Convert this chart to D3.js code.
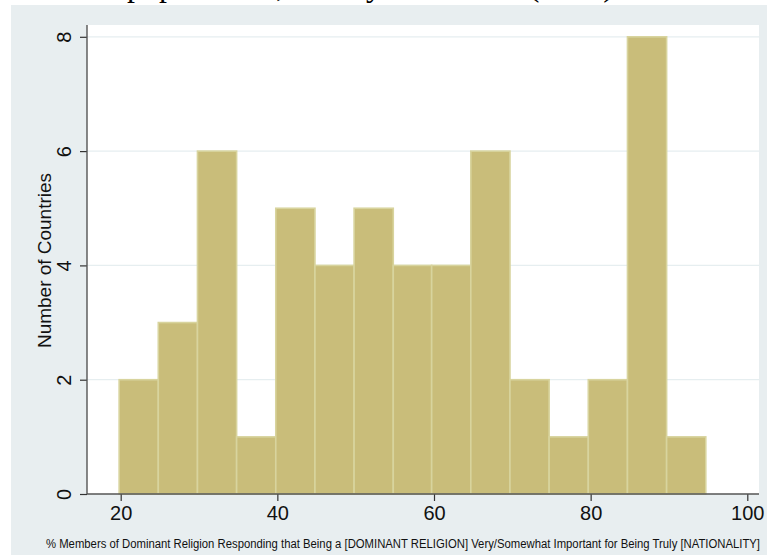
<!DOCTYPE html>
<html>
<head>
<meta charset="utf-8">
<script src="https://cdn.jsdelivr.net/npm/d3@7"></script>
<style>
  html, body { margin: 0; padding: 0; background: #ffffff; }
  svg { display: block; }
</style>
</head>
<body>
<div id="chart"></div>
<script>
// Histogram bins: lower/upper edges and number of countries in each
const binLower = [19.8, 24.8, 29.8, 34.8, 39.8, 44.8, 49.8, 54.8, 59.7, 64.7, 69.7, 74.7, 79.7, 84.7, 89.7];
const binUpper = [24.8, 29.8, 34.8, 39.8, 44.8, 49.8, 54.8, 59.7, 64.7, 69.7, 74.7, 79.7, 84.7, 89.7, 94.7];
const counts   = [2, 3, 6, 1, 5, 4, 5, 4, 4, 6, 2, 1, 2, 8, 1];

const xTicks = [20, 40, 60, 80, 100];
const yTicks = [0, 2, 4, 6, 8];

const xTitle = "% Members of Dominant Religion Responding that Being a [DOMINANT RELIGION] Very/Somewhat Important for Being Truly [NATIONALITY]";
const yTitle = "Number of Countries";
const headTitle = "populations, as they are shown (2018)";

const W = 767, H = 556;
const plot = { left: 87, right: 759, top: 25, bottom: 494 };

const svg = d3.select("#chart").append("svg")
  .attr("width", W).attr("height", H);

// title line above the graph region (runs off the top edge)
svg.append("text")
  .attr("x", 127).attr("y", -4)
  .attr("font-family", "Liberation Serif, serif")
  .attr("font-size", 32)
  .attr("fill", "#000")
  .text(headTitle);

// graph region
svg.append("rect")
  .attr("x", 11).attr("y", 5)
  .attr("width", W - 11).attr("height", 550)
  .attr("fill", "#e8eef0");

// plot region
svg.append("rect")
  .attr("x", plot.left).attr("y", plot.top)
  .attr("width", plot.right - plot.left).attr("height", plot.bottom - plot.top)
  .attr("fill", "#ffffff");

const x = d3.scaleLinear().domain([20, 100]).range([120.7, 747.3]);
const y = d3.scaleLinear().domain([0, 8]).range([494, 36.8]);

// horizontal grid lines
svg.append("g")
  .selectAll("line")
  .data(yTicks.filter(d => d > 0))
  .join("line")
  .attr("x1", plot.left).attr("x2", plot.right)
  .attr("y1", d => y(d)).attr("y2", d => y(d))
  .attr("stroke", "#e6eef0")
  .attr("stroke-width", 1.2);

// bars
const bins = counts.map((c, i) => ({ x0: binLower[i], x1: binUpper[i], n: c }));
svg.append("g")
  .selectAll("rect")
  .data(bins)
  .join("rect")
  .attr("x", d => x(d.x0))
  .attr("width", d => x(d.x1) - x(d.x0))
  .attr("y", d => y(d.n))
  .attr("height", d => y(0) - y(d.n))
  .attr("fill", "#c9bd7a")
  .attr("stroke", "#d8d49e")
  .attr("stroke-width", 1.6);

// axes
const xAxis = d3.axisBottom(x).tickValues(xTicks).tickSize(7).tickPadding(5).tickFormat(d3.format("d"));
const gx = svg.append("g").attr("transform", `translate(0,${plot.bottom})`).call(xAxis);
gx.select(".domain").remove();
gx.append("line")
  .attr("x1", plot.left).attr("x2", plot.right)
  .attr("stroke", "#555").attr("stroke-width", 1.4);
gx.selectAll(".tick line").attr("stroke", "#333").attr("stroke-width", 1.2);
gx.selectAll(".tick text")
  .attr("font-family", "Liberation Sans, Arial, sans-serif")
  .attr("font-size", 20)
  .attr("fill", "#111");

const yAxis = d3.axisLeft(y).tickValues(yTicks).tickSize(7).tickFormat(d3.format("d"));
const gy = svg.append("g").attr("transform", `translate(${plot.left},0)`).call(yAxis);
gy.select(".domain").remove();
gy.append("line")
  .attr("y1", plot.top).attr("y2", plot.bottom)
  .attr("stroke", "#555").attr("stroke-width", 1.4);
gy.selectAll(".tick line").attr("stroke", "#333").attr("stroke-width", 1.2);
gy.selectAll(".tick text")
  .attr("x", null).attr("dy", null)
  .attr("text-anchor", "middle")
  .attr("transform", "translate(-16,0) rotate(-90)")
  .attr("y", 0)
  .attr("font-family", "Liberation Sans, Arial, sans-serif")
  .attr("font-size", 20)
  .attr("fill", "#111");

// axis titles
svg.append("text")
  .attr("x", 403).attr("y", 548)
  .attr("text-anchor", "middle")
  .attr("font-family", "Liberation Sans, Arial, sans-serif")
  .attr("font-size", 12)
  .attr("textLength", 714)
  .attr("lengthAdjust", "spacingAndGlyphs")
  .attr("fill", "#111")
  .text(xTitle);

svg.append("text")
  .attr("transform", `translate(51,${(plot.top + plot.bottom) / 2 + 1}) rotate(-90)`)
  .attr("text-anchor", "middle")
  .attr("font-family", "Liberation Sans, Arial, sans-serif")
  .attr("font-size", 19)
  .attr("textLength", 175)
  .attr("lengthAdjust", "spacingAndGlyphs")
  .attr("fill", "#111")
  .text(yTitle);
</script>
</body>
</html>
